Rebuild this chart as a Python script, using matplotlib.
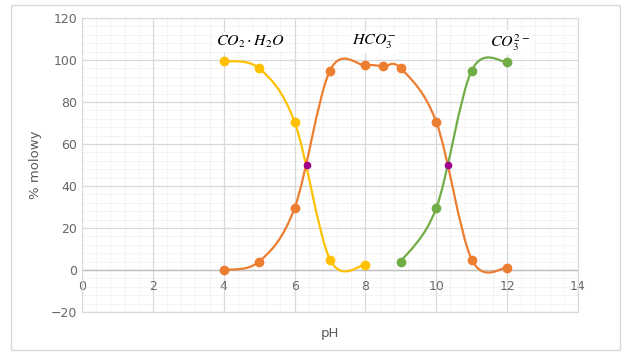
import numpy as np
import matplotlib.pyplot as plt
from matplotlib.path import Path
from matplotlib.patches import PathPatch, Rectangle
from matplotlib.ticker import MultipleLocator

# values
ph_co2 = [4, 5, 6, 7, 8]
co2 = [99.5, 96, 70.5, 5, 2.5]

ph_hco3 = [4, 5, 6, 7, 8, 8.5, 9, 10, 11, 12]
hco3 = [0, 4, 29.5, 95, 97.5, 97, 96, 70.5, 5, 1]

ph_co3 = [9, 10, 11, 12]
co3 = [4, 29.5, 95, 99]

ph_cross = [6.35, 10.33]
cross = [50, 50]

labels = [r'$CO_2\cdot H_2O$', r'$HCO_3^{-}$', r'$CO_3^{2-}$']
label_x = [4.74, 8.24, 12.08]
label_y = [108.5, 108.5, 108.5]


def smooth_path(xs, ys):
    # excel-style smoothed line: cubic bezier with catmull-rom control points
    pts = np.column_stack([xs, ys]).astype(float)
    n = len(pts)
    verts = [pts[0]]
    codes = [Path.MOVETO]
    for i in range(n - 1):
        p0 = pts[i - 1] if i > 0 else pts[i]
        p1 = pts[i]
        p2 = pts[i + 1]
        p3 = pts[i + 2] if i + 2 < n else pts[i + 1]
        c1 = p1 + (p2 - p0) / 6
        c2 = p2 - (p3 - p1) / 6
        verts += [c1, c2, p2]
        codes += [Path.CURVE4] * 3
    return Path(verts, codes)


fig = plt.figure(figsize=(6.4, 3.55), dpi=100)
fig.patches.append(Rectangle((11 / 640, 5 / 355), 609 / 640, 345 / 355,
                             transform=fig.transFigure, fill=False,
                             edgecolor='#d9d9d9', linewidth=1))
ax = fig.add_axes([82 / 640, 43 / 355, 496 / 640, 294 / 355])

ax.set_xlim(0, 14)
ax.set_ylim(-20, 120)
ax.xaxis.set_major_locator(MultipleLocator(2))
ax.xaxis.set_minor_locator(MultipleLocator(0.4))
ax.yaxis.set_major_locator(MultipleLocator(20))
ax.yaxis.set_minor_locator(MultipleLocator(4))
ax.grid(which='major', color='#d9d9d9', linewidth=0.9)
ax.grid(which='minor', color='#e6e6e6', linewidth=0.6, linestyle=(0, (1, 1)))
ax.set_axisbelow(True)
for s in ax.spines.values():
    s.set_color('#d9d9d9')
    s.set_linewidth(0.8)
ax.axhline(0, color='#bfbfbf', linewidth=1, zorder=1)

ax.tick_params(which='both', length=0, colors='#666666', labelsize=9)
ax.tick_params(axis='x', pad=-23)
ax.set_ylabel('% molowy', color='#595959', fontsize=9.5, labelpad=6)
fig.text(330 / 640, 1 - 333 / 355, 'pH', color='#595959', fontsize=9.5,
         ha='center', va='center')

series = [(ph_co2, co2, '#ffc000'),
          (ph_hco3, hco3, '#ed7d31'),
          (ph_co3, co3, '#70ad47')]
for xs, ys, col in series:
    ax.add_patch(PathPatch(smooth_path(xs, ys), fill=False, edgecolor=col,
                           linewidth=1.6, zorder=3))
    ax.plot(xs, ys, 'o', color=col, markersize=6, zorder=4)

ax.plot(ph_cross, cross, 'o', color='#a0008c', markersize=4.5, zorder=5)

for t, x, y in zip(labels, label_x, label_y):
    ax.text(x, y, t, ha='center', va='center', fontsize=11.5,
            math_fontfamily='stix',
            bbox=dict(facecolor='white', edgecolor='none', pad=1.5), zorder=2)

fig.savefig('out.png', dpi=100)
